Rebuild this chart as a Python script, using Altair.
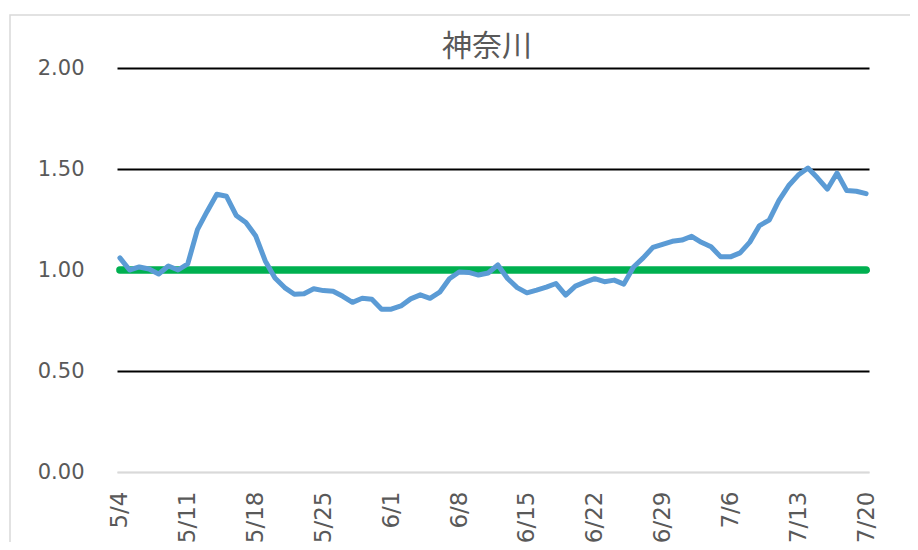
import altair as alt
import pandas as pd

# x categories: daily dates 5/4 .. 7/20
dates = pd.date_range("2020-05-04", "2020-07-20", freq="D")
labels = [f"{d.month}/{d.day}" for d in dates]
tick_labels = labels[::7]

# blue series
ratio = [
    1.06, 1.00, 1.015, 1.005, 0.98, 1.02, 1.00, 1.03, 1.20, 1.29,
    1.375, 1.365, 1.27, 1.235, 1.17, 1.045, 0.96, 0.913, 0.88, 0.882,
    0.907, 0.898, 0.895, 0.87, 0.84, 0.86, 0.855, 0.806, 0.806, 0.822,
    0.857, 0.877, 0.86, 0.89, 0.957, 0.99, 0.988, 0.975, 0.985, 1.025,
    0.958, 0.913, 0.887, 0.90, 0.915, 0.933, 0.876, 0.92, 0.94, 0.957,
    0.942, 0.95, 0.93, 1.015, 1.06, 1.112, 1.127, 1.142, 1.148, 1.167,
    1.137, 1.115, 1.065, 1.065, 1.085, 1.138, 1.22, 1.247, 1.343, 1.417,
    1.47, 1.505, 1.455, 1.40, 1.48, 1.393, 1.39, 1.378,
]
# green reference line
base = [1.0] * len(labels)

y_ticks = [0, 0.5, 1.0, 1.5, 2.0]
title_text = "神奈川"

df = pd.DataFrame({"date": labels, "ratio": ratio, "base": base})

FONT = "DejaVu Sans"
GRAY = "#595959"

x_enc = alt.X(
    "date:N",
    sort=labels,
    scale=alt.Scale(type="point", padding=0.3),
    title=None,
    axis=alt.Axis(
        values=tick_labels,
        labelAngle=270,
        labelAlign="right",
        labelBaseline="middle",
        labelFontSize=23,
        labelFont=FONT,
        labelColor=GRAY,
        labelPadding=19,
        ticks=False,
        grid=False,
        domainColor="#d9d9d9",
        domainWidth=1.5,
    ),
)

y_axis = alt.Axis(
    values=y_ticks,
    format=".2f",
    labelFontSize=21,
    labelFont=FONT,
    labelColor=GRAY,
    labelPadding=33,
    ticks=False,
    domain=False,
    grid=True,
    gridColor={"condition": {"test": "datum.value === 0", "value": "#d9d9d9"}, "value": "black"},
    gridWidth=2,
)

base_chart = alt.Chart(df)

green = base_chart.mark_line(color="#00B050", strokeWidth=7.5, strokeCap="round").encode(
    x=x_enc,
    y=alt.Y("base:Q", scale=alt.Scale(domain=[0, 2]), axis=y_axis, title=None),
)

blue = base_chart.mark_line(color="#5B9BD5", strokeWidth=5, strokeJoin="round", strokeCap="round").encode(
    x=x_enc,
    y=alt.Y("ratio:Q", scale=alt.Scale(domain=[0, 2]), title=None),
)

frame = alt.Chart(pd.DataFrame({"a": [0]})).mark_rect(
    fillOpacity=0, stroke="#d9d9d9", strokeWidth=1.5
).encode(
    x=alt.value(-107), x2=alt.value(900), y=alt.value(-53), y2=alt.value(600)
)

title = alt.Chart(pd.DataFrame({"t": [title_text]})).mark_text(
    font="Noto Sans CJK JP", fontSize=30, color=GRAY, align="center", baseline="middle"
).encode(
    text="t:N", x=alt.value(370), y=alt.value(-21)
)

chart = (
    alt.layer(frame, green, blue, title)
    .properties(
        width=752,
        height=404,
        padding={"left": 109, "top": 60, "right": 41, "bottom": 70},
        autosize=alt.AutoSizeParams(type="none"),
        background="white",
    )
    .configure_view(stroke=None)
)

chart.save("out.html", embed_options={"renderer": "svg", "actions": False})
